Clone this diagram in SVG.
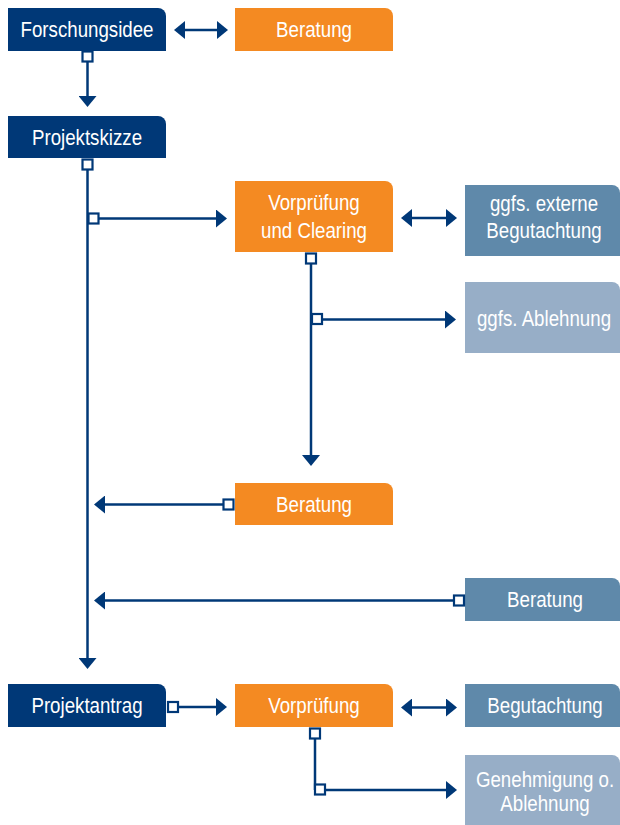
<svg xmlns="http://www.w3.org/2000/svg" width="620" height="825" viewBox="0 0 620 825">
<style>
  .navy { fill: #003877; }
  .orange { fill: #F48A22; }
  .steel { fill: #5F89AA; }
  .light { fill: #97AEC7; }
  .lbl { fill: #ffffff; font-family: "Liberation Sans", Arial, sans-serif; font-size: 22px; text-anchor: middle; }
  .ln { stroke: #003877; stroke-width: 2.5; fill: none; }
  .sq { fill: #ffffff; stroke: #003877; stroke-width: 2.2; }
</style>
<defs>
  <marker id="arr" viewBox="0 0 11 18" refX="1" refY="9" markerWidth="11" markerHeight="18" markerUnits="userSpaceOnUse" orient="auto-start-reverse">
    <path d="M0,0 L11,9 L0,18 Z" fill="#003877"/>
  </marker>
</defs>
<rect width="620" height="825" fill="#ffffff"/>

<g id="forschungsidee">
  <path class="navy" d="M8,8 H158 A8,8 0 0 1 166,16 V51 H8 Z"/>
  <text class="lbl" transform="translate(87,37) scale(0.85,1)">Forschungsidee</text>
</g>
<g id="beratung1">
  <path class="orange" d="M235,8 H385 A8,8 0 0 1 393,16 V51 H235 Z"/>
  <text class="lbl" transform="translate(314,37) scale(0.85,1)">Beratung</text>
</g>
<g id="projektskizze">
  <path class="navy" d="M8,116 H158 A8,8 0 0 1 166,124 V158 H8 Z"/>
  <text class="lbl" transform="translate(87,144.5) scale(0.85,1)">Projektskizze</text>
</g>
<g id="vorpruefung_clearing">
  <path class="orange" d="M235,181 H385 A8,8 0 0 1 393,189 V252 H235 Z"/>
  <text class="lbl" transform="translate(314,210) scale(0.85,1)">Vorprüfung</text>
  <text class="lbl" transform="translate(314,238) scale(0.85,1)">und Clearing</text>
</g>
<g id="externe_begutachtung">
  <path class="steel" d="M465,185 H612 A8,8 0 0 1 620,193 V256 H465 Z"/>
  <text class="lbl" transform="translate(544,211) scale(0.85,1)">ggfs. externe</text>
  <text class="lbl" transform="translate(544,238) scale(0.85,1)">Begutachtung</text>
</g>
<g id="ablehnung1">
  <path class="light" d="M465,282 H612 A8,8 0 0 1 620,290 V353 H465 Z"/>
  <text class="lbl" transform="translate(544,326) scale(0.85,1)">ggfs. Ablehnung</text>
</g>
<g id="beratung2">
  <path class="orange" d="M235,483 H385 A8,8 0 0 1 393,491 V525 H235 Z"/>
  <text class="lbl" transform="translate(314,511.5) scale(0.85,1)">Beratung</text>
</g>
<g id="beratung3">
  <path class="steel" d="M465,578 H612 A8,8 0 0 1 620,586 V621 H465 Z"/>
  <text class="lbl" transform="translate(545,607) scale(0.85,1)">Beratung</text>
</g>
<g id="projektantrag">
  <path class="navy" d="M8,684 H158 A8,8 0 0 1 166,692 V727 H8 Z"/>
  <text class="lbl" transform="translate(87,713) scale(0.85,1)">Projektantrag</text>
</g>
<g id="vorpruefung">
  <path class="orange" d="M235,684 H385 A8,8 0 0 1 393,692 V727 H235 Z"/>
  <text class="lbl" transform="translate(314,713) scale(0.85,1)">Vorprüfung</text>
</g>
<g id="begutachtung">
  <path class="steel" d="M465,684 H612 A8,8 0 0 1 620,692 V727 H465 Z"/>
  <text class="lbl" transform="translate(545,713) scale(0.85,1)">Begutachtung</text>
</g>
<g id="genehmigung">
  <path class="light" d="M465,755 H612 A8,8 0 0 1 620,763 V825 H465 Z"/>
  <text class="lbl" transform="translate(545,787) scale(0.85,1)">Genehmigung o.</text>
  <text class="lbl" transform="translate(545,811) scale(0.85,1)">Ablehnung</text>
</g>

<g id="connectors">
  <line class="ln" x1="184" y1="30" x2="218" y2="30" marker-start="url(#arr)" marker-end="url(#arr)"/>
  <line class="ln" x1="87.5" y1="62" x2="87.5" y2="97" marker-end="url(#arr)"/>
  <rect class="sq" x="82.5" y="51.5" width="10" height="10"/>

  <line class="ln" x1="87.5" y1="169" x2="87.5" y2="659" marker-end="url(#arr)"/>
  <rect class="sq" x="82.5" y="159.5" width="10" height="10"/>

  <line class="ln" x1="98" y1="218.5" x2="217" y2="218.5" marker-end="url(#arr)"/>
  <rect class="sq" x="88.5" y="213.5" width="10" height="10"/>

  <line class="ln" x1="411" y1="218" x2="447" y2="218" marker-start="url(#arr)" marker-end="url(#arr)"/>

  <line class="ln" x1="311" y1="263" x2="311" y2="456" marker-end="url(#arr)"/>
  <rect class="sq" x="306" y="253.5" width="10" height="10"/>
  <line class="ln" x1="321" y1="319.5" x2="446" y2="319.5" marker-end="url(#arr)"/>
  <rect class="sq" x="312" y="314" width="10" height="10"/>

  <line class="ln" x1="223" y1="504.5" x2="104" y2="504.5" marker-end="url(#arr)"/>
  <rect class="sq" x="223.5" y="499.5" width="10" height="10"/>

  <line class="ln" x1="454" y1="600.5" x2="104" y2="600.5" marker-end="url(#arr)"/>
  <rect class="sq" x="454" y="595.5" width="10" height="10"/>

  <line class="ln" x1="177" y1="707" x2="217" y2="707" marker-end="url(#arr)"/>
  <rect class="sq" x="168" y="702" width="10" height="10"/>

  <line class="ln" x1="411" y1="707.5" x2="447" y2="707.5" marker-start="url(#arr)" marker-end="url(#arr)"/>

  <line class="ln" x1="315" y1="738" x2="315" y2="790"/>
  <rect class="sq" x="310" y="728.5" width="10" height="10"/>
  <line class="ln" x1="325" y1="790" x2="447" y2="790" marker-end="url(#arr)"/>
  <rect class="sq" x="315" y="784.5" width="10" height="10"/>
</g>
</svg>
